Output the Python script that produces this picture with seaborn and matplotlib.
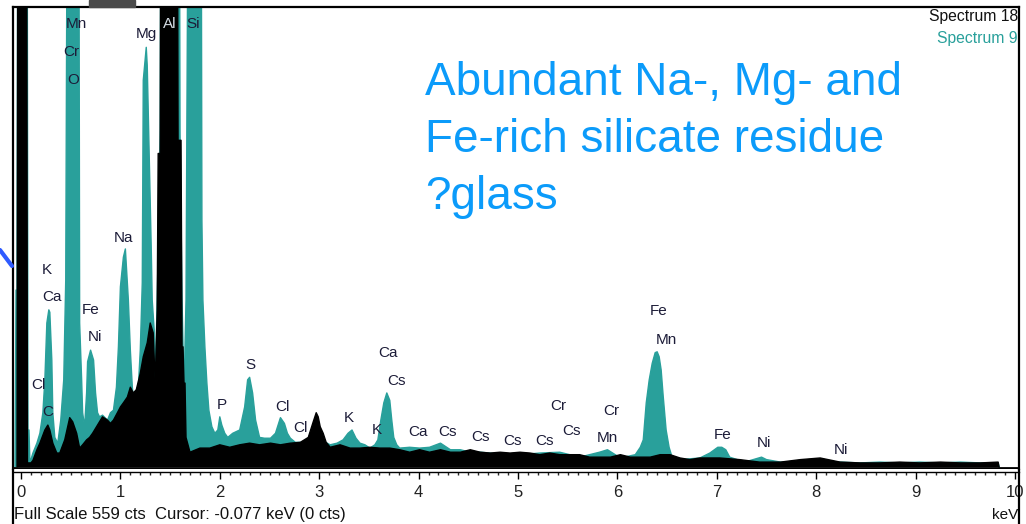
import numpy as np
import pandas as pd
import matplotlib
matplotlib.use("Agg")
import matplotlib.pyplot as plt
from matplotlib.lines import Line2D
from matplotlib.patches import Rectangle
from matplotlib.ticker import MultipleLocator
import seaborn as sns

# Spectrum 9 (teal) - energy in keV, counts (values above full scale are off-scale peaks)
energy_9 = [-0.06, -0.05, -0.04, -0.03, 0.06, 0.07, 0.08, 0.09, 0.12, 0.16, 0.19, 0.22, 0.24,
            0.26, 0.28, 0.29, 0.31, 0.32, 0.34, 0.37, 0.40, 0.43, 0.45, 0.47, 0.58, 0.59,
            0.61, 0.62, 0.64, 0.66, 0.67, 0.70, 0.73, 0.75, 0.77, 0.79, 0.82, 0.87, 0.90,
            0.93, 0.96, 0.98, 1.00, 1.03, 1.05, 1.08, 1.10, 1.12, 1.14, 1.16, 1.18, 1.20,
            1.22, 1.23, 1.26, 1.27, 1.28, 1.30, 1.31, 1.32, 1.34, 1.35, 1.37, 1.39, 1.40,
            1.41, 1.59, 1.60, 1.62, 1.64, 1.66, 1.67, 1.69, 1.81, 1.82, 1.83, 1.85, 1.87,
            1.89, 1.92, 1.95, 1.98, 2.00, 2.02, 2.05, 2.08, 2.13, 2.20, 2.25, 2.28, 2.30,
            2.33, 2.36, 2.40, 2.45, 2.51, 2.56, 2.61, 2.65, 2.68, 2.71, 2.76, 2.81, 2.91,
            2.96, 3.01, 3.08, 3.11, 3.18, 3.24, 3.29, 3.33, 3.37, 3.41, 3.46, 3.51, 3.56,
            3.59, 3.62, 3.65, 3.68, 3.71, 3.73, 3.75, 3.78, 3.81, 3.91, 4.01, 4.11, 4.22,
            4.32, 4.42, 4.52, 4.62, 4.72, 4.82, 5.02, 5.22, 5.42, 5.62, 5.82, 5.90, 6.03,
            6.18, 6.23, 6.26, 6.29, 6.32, 6.35, 6.38, 6.40, 6.42, 6.44, 6.46, 6.49, 6.52,
            6.55, 6.63, 6.83, 6.93, 7.01, 7.05, 7.09, 7.13, 7.28, 7.45, 7.50, 7.64, 7.84,
            8.04, 8.24, 8.44, 8.64, 8.84, 9.04, 9.25, 9.45, 9.65, 9.83, 9.84]
counts_9 = [0, 215, 215, 900, 900, 45, 45, 5, 17, 29, 41, 66, 106,
            175, 191, 188, 130, 66, 36, 29, 57, 106, 227, 900, 900, 175,
            106, 66, 49, 90, 128, 142, 130, 90, 66, 61, 63, 57, 66,
            69, 97, 146, 219, 255, 265, 203, 142, 97, 73, 69, 97, 142,
            224, 470, 510, 488, 434, 324, 267, 203, 166, 102, 203, 324, 409,
            900, 900, 406, 203, 91, 203, 458, 900, 900, 300, 203, 146, 102,
            69, 49, 41, 45, 61, 51, 41, 36, 41, 45, 73, 106, 109,
            90, 57, 36, 35, 35, 41, 60, 53, 41, 35, 30, 30, 29,
            35, 33, 29, 27, 29, 33, 41, 45, 35, 29, 27, 23, 27,
            33, 57, 78, 90, 81, 57, 36, 27, 23, 24, 23, 24, 29,
            21, 21, 18, 18, 17, 15, 15, 17, 18, 12, 18, 21, 11,
            15, 24, 33, 78, 106, 126, 139, 140, 134, 118, 87, 45, 24,
            12, 9, 11, 17, 24, 24, 21, 12, 6, 12, 9, 6, 5,
            7, 6, 5, 6, 5, 6, 5, 6, 5, 5, 0]

# Spectrum 18 (black)
energy_18 = [-0.04, -0.03, 0.055, 0.065, 0.10, 0.12, 0.16, 0.19, 0.24, 0.27,
             0.29, 0.32, 0.36, 0.39, 0.44, 0.49, 0.52, 0.56, 0.59, 0.62, 0.66, 0.69, 0.72,
             0.76, 0.79, 0.82, 0.87, 0.90, 0.93, 0.97, 1.00, 1.03, 1.07, 1.10, 1.13, 1.16,
             1.20, 1.23, 1.27, 1.30, 1.33, 1.35, 1.37, 1.38, 1.40, 1.41, 1.57, 1.58, 1.61,
             1.62, 1.63, 1.64, 1.65, 1.66, 1.70, 1.80, 1.90, 2.00, 2.10, 2.20, 2.30, 2.40,
             2.51, 2.61, 2.71, 2.81, 2.89, 2.94, 2.97, 2.99, 3.01, 3.04, 3.07, 3.11, 3.21,
             3.31, 3.41, 3.51, 3.61, 3.71, 3.81, 3.91, 4.01, 4.11, 4.22, 4.32, 4.42, 4.52,
             4.62, 4.72, 4.82, 4.92, 5.02, 5.12, 5.22, 5.32, 5.42, 5.52, 5.62, 5.72, 5.82,
             5.93, 6.03, 6.13, 6.23, 6.33, 6.43, 6.53, 6.63, 6.73, 6.83, 7.03, 7.23, 7.43,
             7.64, 7.84, 8.04, 8.24, 8.44, 8.64, 8.84, 9.04, 9.25, 9.45, 9.65, 9.83, 9.84]
counts_18 = [0, 900, 900, 5, 5, 8, 21, 29, 45, 51,
             45, 29, 17, 17, 33, 60, 55, 41, 23, 27, 33, 36, 41,
             49, 55, 61, 57, 53, 57, 66, 73, 78, 85, 97, 90, 94,
             114, 134, 151, 175, 163, 102, 190, 381, 381, 900, 900, 397, 397,
             146, 146, 102, 102, 36, 18, 23, 23, 27, 24, 27, 29, 27,
             29, 27, 29, 30, 36, 55, 66, 61, 49, 41, 30, 24, 27,
             23, 23, 24, 23, 23, 21, 18, 21, 18, 21, 18, 18, 21,
             18, 17, 18, 17, 18, 17, 15, 17, 15, 15, 15, 12, 12,
             12, 15, 12, 12, 12, 15, 15, 11, 9, 11, 11, 9, 6,
             6, 9, 11, 6, 5, 5, 6, 5, 6, 5, 5, 6, 0]

# element markers: label, energy (keV), counts
peak_labels = ["Mn", "Cr", "O", "Mg", "Si", "Na", "K", "Ca", "Fe", "Ni", "Cl", "C",
               "P", "S", "Cl", "Cl", "Ca", "Cs", "K", "K", "Ca", "Cs", "Cs", "Cs", "Cs",
               "Cr", "Cs", "Cr", "Mn", "Fe", "Mn", "Fe", "Ni", "Ni"]
peak_energy = [0.56, 0.51, 0.52, 1.26, 1.73, 1.03, 0.26, 0.31, 0.70, 0.74, 0.18, 0.27,
               2.02, 2.31, 2.63, 2.81, 3.69, 3.78, 3.30, 3.58, 3.99, 4.29, 4.62, 4.94, 5.27,
               5.41, 5.54, 5.94, 5.90, 6.41, 6.49, 7.06, 7.47, 8.25]
peak_counts = [538, 504, 470, 526, 538, 278, 239, 207, 191, 158, 100, 67,
               75, 124, 73, 47, 139, 104, 60, 45, 43, 43, 36, 32, 32,
               74, 44, 68, 35, 190, 154, 39, 29, 21]

full_scale = 559
teal = "#29A09B"
label_color = "#1c1c38"
note_blue = "#0B9BFA"

sns.set_style("white")
plt.rcParams["font.family"] = ["Liberation Sans", "DejaVu Sans"]

W, H = 1026, 524
fig = plt.figure(figsize=(W / 100, H / 100), dpi=100)
ax = fig.add_axes([13 / W, (H - 469) / H, (1019 - 13) / W, (469 - 7) / H])

df9 = pd.DataFrame({"energy": energy_9, "counts": counts_9})
df18 = pd.DataFrame({"energy": energy_18, "counts": counts_18})

ax.fill_between(df9["energy"], df9["counts"], 0, color=teal, lw=0, zorder=1)
sns.lineplot(data=df9, x="energy", y="counts", color=teal, lw=1, estimator=None,
             ax=ax, zorder=1.5)
ax.fill_between(df18["energy"], df18["counts"], 0, color="black", lw=0, zorder=2)
sns.lineplot(data=df18, x="energy", y="counts", color="black", lw=1, estimator=None,
             ax=ax, zorder=2.5)

ax.axhline(-1.2, color="black", lw=2, zorder=3)

for lab, e, c in zip(peak_labels, peak_energy, peak_counts):
    ax.text(e, c, lab, ha="center", va="center", fontsize=11, color=label_color, zorder=6)
ax.text(1.50, 538, "Al", ha="center", va="center", fontsize=11, color="#d4dce4", zorder=6)

ax.set_xlim(-0.0805, 10.04)
ax.set_ylim(-2.4, full_scale)
ax.set_xlabel("")
ax.set_ylabel("")
ax.set_yticks([])
ax.xaxis.set_major_locator(MultipleLocator(1))
ax.xaxis.set_minor_locator(MultipleLocator(0.1))
ax.set_xticks(range(0, 11))
ax.set_xticklabels([str(i) for i in range(0, 11)])
ax.tick_params(axis="x", which="major", length=5, width=1, direction="out", pad=4,
               labelsize=12, colors="black", labelcolor="#222222", bottom=True)
ax.tick_params(axis="x", which="minor", length=2.5, width=1, direction="out", bottom=True)

for side in ["top", "left", "right"]:
    ax.spines[side].set_linewidth(1.6)
    ax.spines[side].set_color("black")
ax.spines["bottom"].set_position(("outward", 2.2))
ax.spines["bottom"].set_linewidth(1)
ax.spines["bottom"].set_color("black")

# outer frame continues below the plot
fig.add_artist(Line2D([13 / W, 13 / W], [0, (H - 469) / H], color="black", lw=1.6))
fig.add_artist(Line2D([1019 / W, 1019 / W], [0, (H - 469) / H], color="black", lw=1.6))

# slide remnants
fig.add_artist(Rectangle((89 / W, (H - 7) / H), 46 / W, 7 / H, color="#4a4a4a",
                         transform=fig.transFigure))
fig.add_artist(Line2D([0, 12 / W], [(H - 250) / H, (H - 266) / H], color="#2f5bff", lw=3))

fig.text(1018 / W, (H - 17) / H, "Spectrum 18", ha="right", va="center", fontsize=11.3,
         color="#111111")
fig.text(1018 / W, (H - 39) / H, "Spectrum 9", ha="right", va="center", fontsize=11.3,
         color=teal)

note_lines = ["Abundant Na-, Mg- and", "Fe-rich silicate residue", "?glass"]
for i, line in enumerate(note_lines):
    fig.text(425 / W, (H - 95 - 57 * i) / H, line, ha="left", va="baseline",
             fontsize=33, color=note_blue)

fig.text(14 / W, (H - 515) / H, "Full Scale 559 cts  Cursor: -0.077 keV (0 cts)",
         ha="left", va="center", fontsize=12, color="#111111")
fig.text(1018 / W, (H - 515) / H, "keV", ha="right", va="center", fontsize=11,
         color="#111111")

fig.savefig("out.png", dpi=100, facecolor="white")
